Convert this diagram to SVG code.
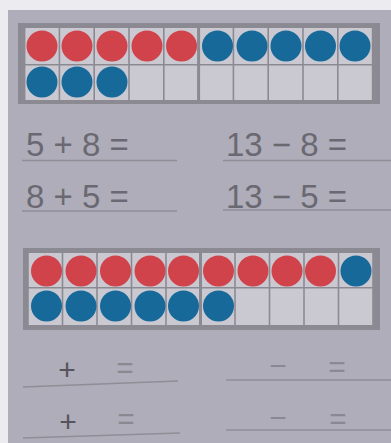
<svg xmlns="http://www.w3.org/2000/svg" width="391" height="443" viewBox="0 0 391 443">
<style>
.frame{fill:#8b8a93}
.cell{fill:#cac9d1}
.r{fill:#d0434b}
.b{fill:#17699a}
.t{font-family:"Liberation Sans","DejaVu Sans",sans-serif;font-size:33px;fill:#6a6972}
.s{font-family:"Liberation Sans","DejaVu Sans",sans-serif;font-size:30px;fill:#55545c}
.q{font-family:"Liberation Sans","DejaVu Sans",sans-serif;font-size:30px;fill:#8a8992}
.ln{stroke:#8f8e97;stroke-width:1.6;fill:none}
</style>
<rect x="0" y="0" width="391" height="443" fill="#ecebef"/>
<rect x="8" y="10" width="383" height="433" fill="#afadb9"/>

<g id="frame1">
<rect class="frame" x="18" y="23" width="362" height="81"/>
<g class="cell">
<rect x="25.4" y="28" width="33.2" height="36"/><rect x="60.2" y="28" width="33.2" height="36"/><rect x="95" y="28" width="33.2" height="36"/><rect x="129.8" y="28" width="33.2" height="36"/><rect x="164.6" y="28" width="32.5" height="36"/>
<rect x="200.1" y="28" width="32.5" height="36"/><rect x="234.2" y="28" width="33.2" height="36"/><rect x="269" y="28" width="33.2" height="36"/><rect x="303.8" y="28" width="33.2" height="36"/><rect x="338.6" y="28" width="33.2" height="36"/>
<rect x="25.4" y="65.5" width="33.2" height="34.5"/><rect x="60.2" y="65.5" width="33.2" height="34.5"/><rect x="95" y="65.5" width="33.2" height="34.5"/><rect x="129.8" y="65.5" width="33.2" height="34.5"/><rect x="164.6" y="65.5" width="32.5" height="34.5"/>
<rect x="200.1" y="65.5" width="32.5" height="34.5"/><rect x="234.2" y="65.5" width="33.2" height="34.5"/><rect x="269" y="65.5" width="33.2" height="34.5"/><rect x="303.8" y="65.5" width="33.2" height="34.5"/><rect x="338.6" y="65.5" width="33.2" height="34.5"/>
</g>
<circle class="r" cx="42" cy="46" r="15.5"/><circle class="r" cx="77" cy="46" r="15.5"/><circle class="r" cx="112" cy="46" r="15.5"/><circle class="r" cx="147" cy="46" r="15.5"/><circle class="r" cx="181.5" cy="46" r="15.5"/>
<circle class="b" cx="217.5" cy="46" r="15.5"/><circle class="b" cx="252" cy="46" r="15.5"/><circle class="b" cx="286" cy="46" r="15.5"/><circle class="b" cx="320.5" cy="46" r="15.5"/><circle class="b" cx="355" cy="46" r="15.5"/>
<circle class="b" cx="42" cy="82" r="15.5"/><circle class="b" cx="77" cy="82" r="15.5"/><circle class="b" cx="112" cy="82" r="15.5"/>
</g>

<g id="eq1">
<text class="t" x="26" y="156">5 + 8 =</text>
<line class="ln" x1="22" y1="160.5" x2="177" y2="160.5"/>
</g>
<g id="eq2">
<text class="t" x="226" y="156">13 − 8 =</text>
<line class="ln" x1="223" y1="160.5" x2="391" y2="160.5"/>
</g>
<g id="eq3">
<text class="t" x="26" y="208">8 + 5 =</text>
<line class="ln" x1="22" y1="211" x2="177" y2="211"/>
</g>
<g id="eq4">
<text class="t" x="226" y="208">13 − 5 =</text>
<line class="ln" x1="223" y1="210" x2="391" y2="210"/>
</g>

<g id="frame2">
<rect class="frame" x="23" y="248" width="357" height="82"/>
<g class="cell">
<rect x="28.8" y="253" width="32.9" height="34"/><rect x="63.3" y="253" width="32.9" height="34"/><rect x="97.8" y="253" width="32.9" height="34"/><rect x="132.3" y="253" width="32.9" height="34"/><rect x="166.8" y="253" width="32.2" height="34"/>
<rect x="202" y="253" width="32.2" height="34"/><rect x="235.8" y="253" width="32.9" height="34"/><rect x="270.3" y="253" width="32.9" height="34"/><rect x="304.8" y="253" width="32.9" height="34"/><rect x="339.3" y="253" width="32.9" height="34"/>
<rect x="28.8" y="288.5" width="32.9" height="36.5"/><rect x="63.3" y="288.5" width="32.9" height="36.5"/><rect x="97.8" y="288.5" width="32.9" height="36.5"/><rect x="132.3" y="288.5" width="32.9" height="36.5"/><rect x="166.8" y="288.5" width="32.2" height="36.5"/>
<rect x="202" y="288.5" width="32.2" height="36.5"/><rect x="235.8" y="288.5" width="32.9" height="36.5"/><rect x="270.3" y="288.5" width="32.9" height="36.5"/><rect x="304.8" y="288.5" width="32.9" height="36.5"/><rect x="339.3" y="288.5" width="32.9" height="36.5"/>
</g>
<circle class="r" cx="46.5" cy="271" r="15.5"/><circle class="r" cx="81" cy="271" r="15.5"/><circle class="r" cx="115.5" cy="271" r="15.5"/><circle class="r" cx="150" cy="271" r="15.5"/><circle class="r" cx="183.5" cy="271" r="15.5"/>
<circle class="r" cx="218.5" cy="271" r="15.5"/><circle class="r" cx="253" cy="271" r="15.5"/><circle class="r" cx="287" cy="271" r="15.5"/><circle class="r" cx="320.5" cy="271" r="15.5"/><circle class="b" cx="356" cy="271" r="15.5"/>
<circle class="b" cx="46.5" cy="306" r="15.5"/><circle class="b" cx="81" cy="306" r="15.5"/><circle class="b" cx="115.5" cy="306" r="15.5"/><circle class="b" cx="150" cy="306" r="15.5"/><circle class="b" cx="183.5" cy="306" r="15.5"/><circle class="b" cx="218.5" cy="306" r="15.5"/>
</g>

<g id="eq5">
<text class="s" x="67" y="380" text-anchor="middle">+</text>
<text class="q" x="125" y="378" text-anchor="middle">=</text>
<line class="ln" x1="23" y1="387" x2="178" y2="381"/>
</g>
<g id="eq6">
<text class="q" x="278" y="376" text-anchor="middle">−</text>
<text class="q" x="337" y="377" text-anchor="middle">=</text>
<line class="ln" x1="226" y1="380" x2="391" y2="380"/>
</g>
<g id="eq7">
<text class="s" x="68" y="432" text-anchor="middle">+</text>
<text class="q" x="126" y="429" text-anchor="middle">=</text>
<line class="ln" x1="23" y1="438" x2="180" y2="433"/>
</g>
<g id="eq8">
<text class="q" x="278" y="428" text-anchor="middle">−</text>
<text class="q" x="338" y="429" text-anchor="middle">=</text>
<line class="ln" x1="226" y1="430" x2="391" y2="430"/>
</g>
<g id="connectors"/>
</svg>
